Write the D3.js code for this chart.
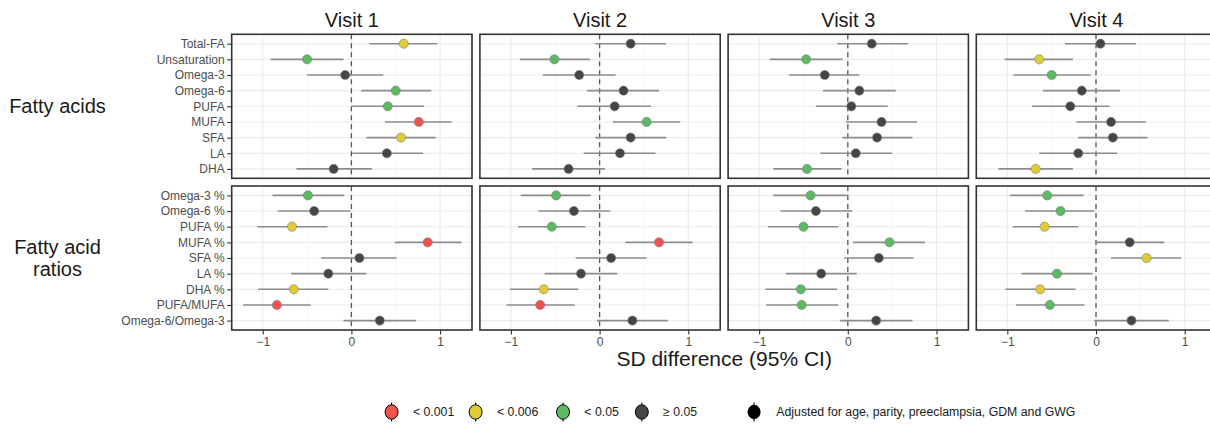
<!DOCTYPE html>
<html>
<head>
<meta charset="utf-8">
<script src="https://cdn.jsdelivr.net/npm/d3@7"></script>
<style>
  body { margin: 0; background: #fff; }
  svg { display: block; font-family: "Liberation Sans", Arial, sans-serif; }
</style>
</head>
<body>
<div id="app"></div>
<script>
const visits = ["Visit 1", "Visit 2", "Visit 3", "Visit 4"];
const faRows = ["Total-FA", "Unsaturation", "Omega-3", "Omega-6", "PUFA", "MUFA", "SFA", "LA", "DHA"];
const ratioRows = ["Omega-3 %", "Omega-6 %", "PUFA %", "MUFA %", "SFA %", "LA %", "DHA %", "PUFA/MUFA", "Omega-6/Omega-3"];

// one inner array per visit, in row order
const faEst = [
  [0.59, -0.50, -0.07, 0.50, 0.41, 0.76, 0.56, 0.40, -0.20],
  [0.35, -0.51, -0.23, 0.27, 0.17, 0.53, 0.35, 0.23, -0.35],
  [0.27, -0.47, -0.26, 0.13, 0.04, 0.38, 0.33, 0.09, -0.46],
  [0.05, -0.64, -0.50, -0.16, -0.29, 0.17, 0.19, -0.20, -0.68]
];
const faLo = [
  [0.20, -0.91, -0.50, 0.11, 0.00, 0.38, 0.17, 0.01, -0.62],
  [-0.05, -0.90, -0.64, -0.14, -0.25, 0.15, -0.05, -0.18, -0.76],
  [-0.12, -0.88, -0.66, -0.28, -0.36, -0.02, -0.06, -0.31, -0.84],
  [-0.35, -1.03, -0.93, -0.60, -0.72, -0.22, -0.20, -0.64, -1.10]
];
const faHi = [
  [0.97, -0.09, 0.36, 0.90, 0.82, 1.13, 0.95, 0.81, 0.23],
  [0.75, -0.11, 0.18, 0.67, 0.58, 0.91, 0.75, 0.63, 0.06],
  [0.68, -0.06, 0.13, 0.54, 0.45, 0.78, 0.73, 0.50, -0.07],
  [0.45, -0.26, -0.06, 0.27, 0.15, 0.56, 0.58, 0.24, -0.26]
];
const faSig = [
  ["c", "g", "d", "g", "g", "r", "c", "d", "d"],
  ["d", "g", "d", "d", "d", "g", "d", "d", "d"],
  ["d", "g", "d", "d", "d", "d", "d", "d", "g"],
  ["d", "c", "g", "d", "d", "d", "d", "d", "c"]
];

const ratioEst = [
  [-0.49, -0.42, -0.67, 0.86, 0.09, -0.26, -0.65, -0.84, 0.32],
  [-0.49, -0.29, -0.54, 0.67, 0.13, -0.21, -0.63, -0.67, 0.37],
  [-0.42, -0.36, -0.50, 0.47, 0.35, -0.30, -0.53, -0.52, 0.32],
  [-0.55, -0.40, -0.58, 0.38, 0.57, -0.44, -0.63, -0.52, 0.40]
];
const ratioLo = [
  [-0.89, -0.83, -1.06, 0.49, -0.34, -0.68, -1.05, -1.22, -0.09],
  [-0.89, -0.69, -0.92, 0.29, -0.27, -0.62, -1.01, -1.05, -0.03],
  [-0.84, -0.76, -0.90, 0.06, -0.04, -0.70, -0.93, -0.92, -0.09],
  [-0.97, -0.80, -0.94, -0.01, 0.17, -0.84, -1.02, -0.90, -0.02]
];
const ratioHi = [
  [-0.08, -0.01, -0.27, 1.24, 0.51, 0.17, -0.26, -0.46, 0.73],
  [-0.10, 0.12, -0.16, 1.05, 0.53, 0.20, -0.24, -0.28, 0.77],
  [0.00, 0.05, -0.11, 0.87, 0.74, 0.10, -0.12, -0.11, 0.73],
  [-0.14, -0.02, -0.20, 0.77, 0.96, -0.04, -0.23, -0.13, 0.82]
];
const ratioSig = [
  ["g", "d", "c", "r", "d", "d", "c", "r", "d"],
  ["g", "d", "g", "r", "d", "d", "c", "r", "d"],
  ["g", "d", "g", "g", "d", "d", "g", "g", "d"],
  ["g", "g", "c", "d", "c", "g", "c", "g", "d"]
];

const sigKeys = ["r", "c", "g", "d"];
const sigLabels = ["< 0.001", "< 0.006", "< 0.05", "\u2265 0.05"];
const sigColors = ["#ef5350", "#dfcb35", "#5db963", "#454545"];
const xTicks = [-1, 0, 1];
const xMinor = [-0.5, 0.5];

const width = 1210, height = 424;
const panel = { left: 231.7, step: 248.2, w: 240.3, h: 144 };
const rowsTop = [34.3, 186];

const svg = d3.select("#app").append("svg")
  .attr("width", width)
  .attr("height", height);

const x = d3.scaleLinear().domain([-1.35, 1.36]).range([0, panel.w]);
const color = d3.scaleOrdinal().domain(sigKeys).range(sigColors);

const groups = [
  { rows: faRows, est: faEst, lo: faLo, hi: faHi, sig: faSig, label: ["Fatty acids"] },
  { rows: ratioRows, est: ratioEst, lo: ratioLo, hi: ratioHi, sig: ratioSig, label: ["Fatty acid", "ratios"] }
];

groups.forEach((grp, gi) => {
  const top = rowsTop[gi];
  const y = d3.scalePoint().domain(grp.rows).range([0, panel.h]).padding(0.6);

  // row strip label on the left
  const lab = svg.append("text")
    .attr("x", 57.5)
    .attr("y", top + panel.h / 2 + 7 - (grp.label.length - 1) * 10.8)
    .attr("text-anchor", "middle")
    .style("font-size", "20px")
    .attr("fill", "#1a1a1a");
  grp.label.forEach((t, i) => {
    lab.append("tspan").attr("x", 57.5).attr("dy", i === 0 ? 0 : 21.7).text(t);
  });

  // y axis labels
  const yAxis = svg.append("g")
    .attr("transform", `translate(${panel.left},${top})`)
    .call(d3.axisLeft(y).tickSize(4.5).tickPadding(2.5));
  yAxis.select(".domain").remove();
  yAxis.selectAll(".tick line").attr("stroke", "#333").attr("stroke-width", 1.1);
  yAxis.selectAll(".tick text")
    .attr("fill", "#4d4d4d")
    .style("font-size", "12px")
    .style("font-family", "Liberation Sans, Arial, sans-serif");

  visits.forEach((v, vi) => {
    const g = svg.append("g")
      .attr("transform", `translate(${panel.left + vi * panel.step},${top})`);

    g.append("rect")
      .attr("width", panel.w)
      .attr("height", panel.h)
      .attr("fill", "#fff");

    g.selectAll(".minor")
      .data(xMinor)
      .enter()
      .append("line")
      .attr("x1", (d) => x(d))
      .attr("x2", (d) => x(d))
      .attr("y1", 0)
      .attr("y2", panel.h)
      .attr("stroke", "#f3f3f3")
      .attr("stroke-width", 0.6);

    g.selectAll(".major")
      .data(xTicks)
      .enter()
      .append("line")
      .attr("x1", (d) => x(d))
      .attr("x2", (d) => x(d))
      .attr("y1", 0)
      .attr("y2", panel.h)
      .attr("stroke", "#ebebeb")
      .attr("stroke-width", 1.1);

    g.selectAll(".hgrid")
      .data(grp.rows)
      .enter()
      .append("line")
      .attr("x1", 0)
      .attr("x2", panel.w)
      .attr("y1", (d) => y(d))
      .attr("y2", (d) => y(d))
      .attr("stroke", "#ebebeb")
      .attr("stroke-width", 1.1);

    g.append("line")
      .attr("x1", x(0))
      .attr("x2", x(0))
      .attr("y1", 0)
      .attr("y2", panel.h)
      .attr("stroke", "#555")
      .attr("stroke-width", 1.3)
      .attr("stroke-dasharray", "5,4");

    const data = grp.rows.map((r, i) => ({
      row: r,
      est: grp.est[vi][i],
      lo: grp.lo[vi][i],
      hi: grp.hi[vi][i],
      sig: grp.sig[vi][i]
    }));

    g.selectAll(".ci")
      .data(data)
      .enter()
      .append("line")
      .attr("x1", (d) => x(d.lo))
      .attr("x2", (d) => x(d.hi))
      .attr("y1", (d) => y(d.row))
      .attr("y2", (d) => y(d.row))
      .attr("stroke", "#8c8c8c")
      .attr("stroke-width", 1.6);

    g.selectAll(".pt")
      .data(data)
      .enter()
      .append("circle")
      .attr("cx", (d) => x(d.est))
      .attr("cy", (d) => y(d.row))
      .attr("r", 4.6)
      .attr("fill", (d) => color(d.sig))
      .attr("stroke", "#7f7f7f")
      .attr("stroke-width", 0.6);

    g.append("rect")
      .attr("width", panel.w)
      .attr("height", panel.h)
      .attr("fill", "none")
      .attr("stroke", "#333")
      .attr("stroke-width", 1.6);

    if (gi === 0) {
      svg.append("text")
        .attr("x", panel.left + vi * panel.step + panel.w / 2)
        .attr("y", 26.5)
        .attr("text-anchor", "middle")
        .style("font-size", "20px")
        .attr("fill", "#1a1a1a")
        .text(v);
    } else {
      const xAxis = g.append("g")
        .attr("transform", `translate(0,${panel.h})`)
        .call(d3.axisBottom(x).tickValues(xTicks).tickFormat(d3.format("d")).tickSize(4.5).tickPadding(3));
      xAxis.select(".domain").remove();
      xAxis.selectAll(".tick line").attr("stroke", "#333").attr("stroke-width", 1.1);
      xAxis.selectAll(".tick text")
        .attr("fill", "#4d4d4d")
        .style("font-size", "12px")
        .style("font-family", "Liberation Sans, Arial, sans-serif");
    }
  });
});

// x axis title
svg.append("text")
  .attr("x", panel.left + (3 * panel.step + panel.w) / 2)
  .attr("y", 366)
  .attr("text-anchor", "middle")
  .style("font-size", "21px")
  .attr("fill", "#1a1a1a")
  .text("SD difference (95% CI)");

// legend
const legendY = 412;
const keyX = [391.6, 475.6, 563, 641.8];
const legend = svg.append("g");
sigKeys.forEach((k, i) => {
  const lg = legend.append("g").attr("transform", `translate(${keyX[i]},${legendY})`);
  lg.append("line").attr("y1", -9.5).attr("y2", 9.5).attr("stroke", "#000").attr("stroke-width", 1.1);
  lg.append("ellipse").attr("rx", 6.5).attr("ry", 7.2)
    .attr("fill", color(k)).attr("stroke", "#000").attr("stroke-width", 1);
  lg.append("text")
    .attr("x", 21.3)
    .attr("dy", "0.35em")
    .style("font-size", "12.3px")
    .attr("fill", "#1a1a1a")
    .text(sigLabels[i]);
});
const adj = legend.append("g").attr("transform", `translate(754.1,${legendY})`);
adj.append("line").attr("y1", -9.5).attr("y2", 9.5).attr("stroke", "#000").attr("stroke-width", 1.1);
adj.append("ellipse").attr("rx", 6.5).attr("ry", 7.2).attr("fill", "#000");
adj.append("text")
  .attr("x", 22.2)
  .attr("dy", "0.35em")
  .style("font-size", "12.3px")
  .attr("fill", "#1a1a1a")
  .text("Adjusted for age, parity, preeclampsia, GDM and GWG");
</script>
</body>
</html>
